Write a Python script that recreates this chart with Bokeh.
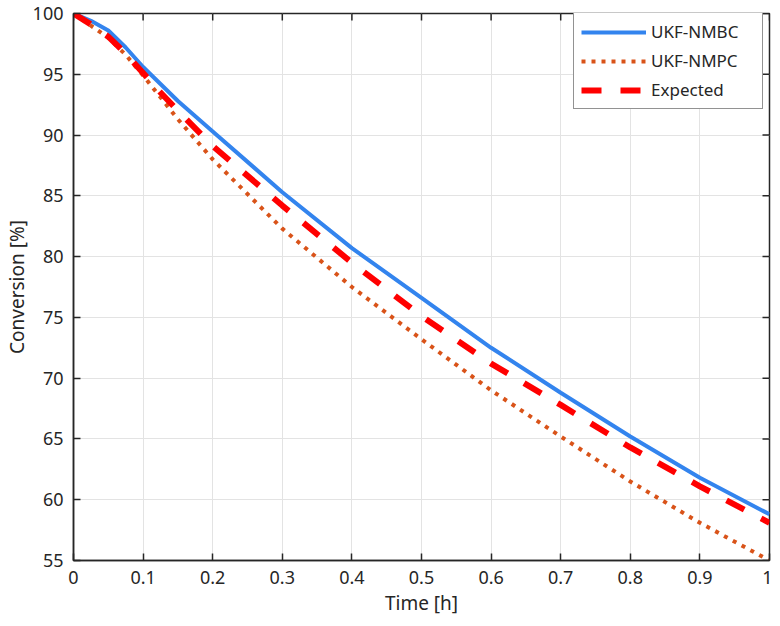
import math
from bokeh.plotting import figure
from bokeh.models import FixedTicker, Range1d, Legend, LegendItem
from bokeh.embed import file_html
from bokeh.resources import INLINE

t = [0.0, 0.025, 0.05, 0.075, 0.1, 0.125, 0.15, 0.2, 0.3, 0.4, 0.5, 0.6, 0.7, 0.8, 0.9, 1.0]
ukf_nmbc = [100.0, 99.4, 98.6, 97.2, 95.6, 94.2, 92.8, 90.3, 85.3, 80.7, 76.6, 72.5, 68.8, 65.2, 61.8, 58.8]
ukf_nmpc = [100.0, 99.0, 98.0, 96.6, 94.9, 93.1, 91.3, 88.0, 82.3, 77.5, 73.2, 69.0, 65.2, 61.5, 58.1, 55.0]
expected = [100.0, 99.1, 98.1, 96.7, 95.1, 93.5, 92.0, 89.1, 84.2, 79.5, 75.1, 71.2, 67.8, 64.3, 61.1, 58.1]

x_ticks = [0, 0.1, 0.2, 0.3, 0.4, 0.5, 0.6, 0.7, 0.8, 0.9, 1]
x_tick_labels = ["0", "0.1", "0.2", "0.3", "0.4", "0.5", "0.6", "0.7", "0.8", "0.9", "1"]
y_ticks = [55, 60, 65, 70, 75, 80, 85, 90, 95, 100]

FONT = "Noto Sans"
TXT = "#262626"

x_lo, x_hi = x_ticks[0], x_ticks[-1]
y_lo, y_hi = y_ticks[0], y_ticks[-1]

p = figure(width=772, height=624, output_backend="svg", toolbar_location=None,
           x_range=Range1d(x_lo, x_hi), y_range=Range1d(y_lo, y_hi),
           min_border_left=67, min_border_right=3, min_border_top=13, min_border_bottom=64)
p.background_fill_color = "white"
p.border_fill_color = "white"
p.outline_line_color = TXT
p.outline_line_width = 1.5

for ax in (p.xaxis[0], p.yaxis[0]):
    ax.major_tick_in = 7
    ax.major_tick_out = 0
    ax.minor_tick_line_color = None
    ax.axis_line_color = TXT
    ax.axis_line_width = 1.5
    ax.major_tick_line_color = TXT
    ax.major_tick_line_width = 1.5
    ax.major_label_text_font = FONT
    ax.major_label_text_font_size = "18px"
    ax.major_label_text_color = TXT
    ax.axis_label_text_font = FONT
    ax.axis_label_text_font_size = "19px"
    ax.axis_label_text_font_style = "normal"
    ax.axis_label_text_color = TXT

p.xaxis[0].ticker = FixedTicker(ticks=x_ticks)
p.xaxis[0].major_label_overrides = {tk: lb for tk, lb in zip(x_ticks, x_tick_labels)}
p.yaxis[0].ticker = FixedTicker(ticks=y_ticks)
p.xaxis[0].axis_label = "Time [h]"
p.yaxis[0].axis_label = "Conversion [%]"
p.xaxis[0].major_label_standoff = 10
p.yaxis[0].major_label_standoff = 10
p.xaxis[0].axis_label_standoff = 3
p.yaxis[0].axis_label_standoff = 0

p.xgrid.ticker = FixedTicker(ticks=x_ticks)
p.ygrid.ticker = FixedTicker(ticks=y_ticks)
p.grid.grid_line_color = "#e3e3e3"
p.grid.grid_line_width = 1

r1 = p.line(t, ukf_nmbc, line_color="#3384ee", line_width=4)
r2 = p.line(t, ukf_nmpc, line_color="#d95319", line_width=4, line_dash="4 6")
r3 = p.line(t, expected, line_color="#ff0000", line_width=6, line_dash="20 19")

# inward tick marks on the top and right edges of the box (half clipped by the frame)
p.scatter(x=x_ticks, y=[y_hi] * len(x_ticks), marker="dash", angle=math.pi / 2,
          size=14, line_color=TXT, line_width=1.5)
p.scatter(x=[x_hi] * len(y_ticks), y=y_ticks, marker="dash", angle=0,
          size=14, line_color=TXT, line_width=1.5)

legend = Legend(items=[LegendItem(label="UKF-NMBC", renderers=[r1]),
                       LegendItem(label="UKF-NMPC", renderers=[r2]),
                       LegendItem(label="Expected", renderers=[r3])],
                location=(500, 451))
legend.margin = 0
legend.padding = 7
legend.spacing = 6
legend.glyph_width = 65
legend.glyph_height = 20
legend.label_height = 20
legend.label_width = 104
legend.label_standoff = 5
legend.label_text_font = FONT
legend.label_text_font_size = "17px"
legend.label_text_color = TXT
legend.border_line_color = TXT
legend.border_line_width = 1
legend.background_fill_color = "white"
legend.background_fill_alpha = 1
p.add_layout(legend)

open("out.html", "w").write(file_html(p, INLINE))
